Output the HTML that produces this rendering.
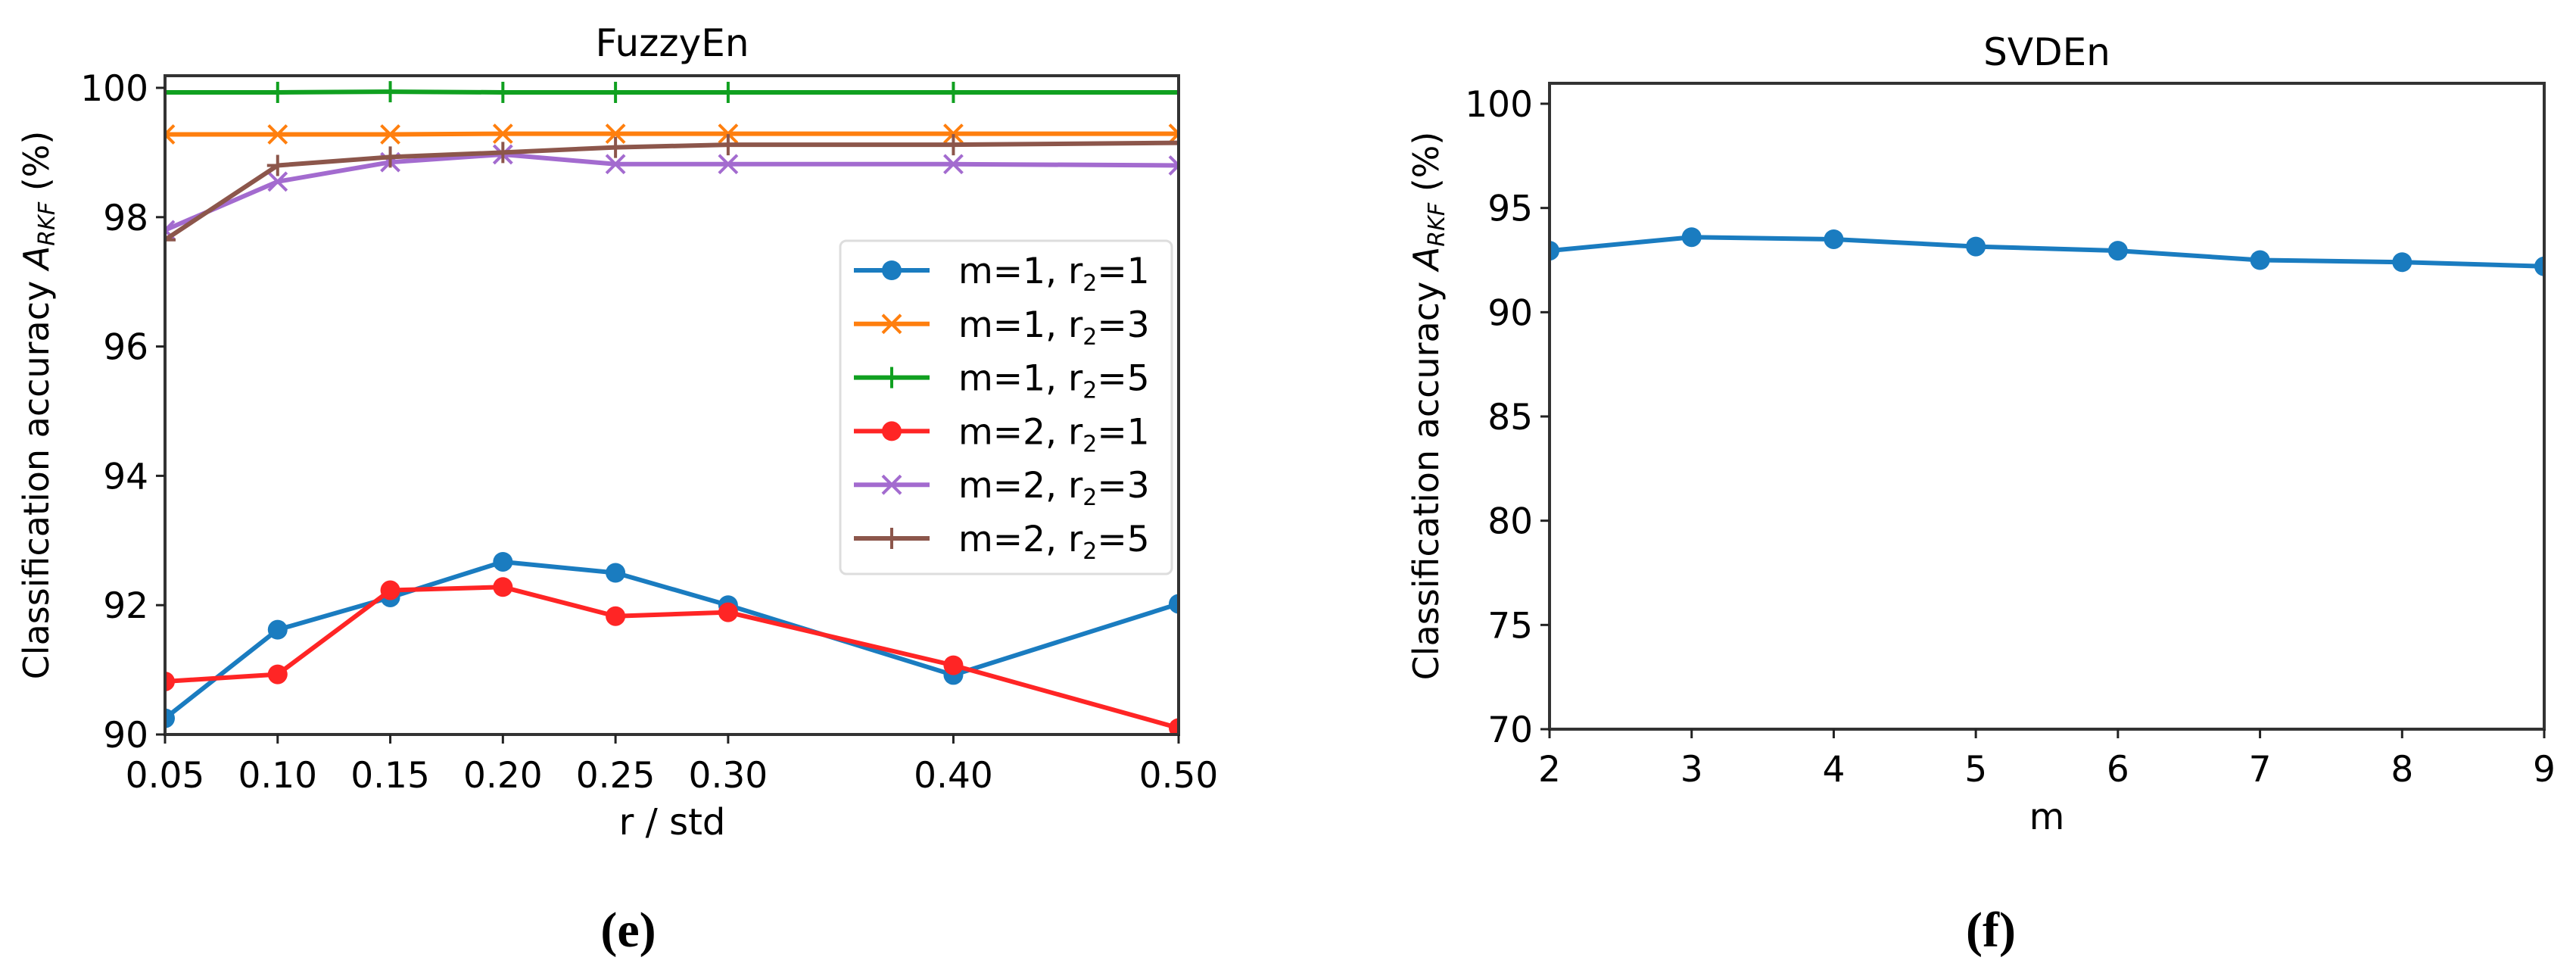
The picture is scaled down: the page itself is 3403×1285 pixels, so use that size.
<!DOCTYPE html>
<html><head><meta charset="utf-8"><style>
body{margin:0;background:#fff;}
svg text{font-family:"DejaVu Sans","Liberation Sans",sans-serif;fill:#000;}
</style></head><body>
<svg id="fig" width="3403" height="1280" xmlns="http://www.w3.org/2000/svg"></svg>
<script>
const xCatsE=[0.05,0.10,0.15,0.20,0.25,0.30,0.40,0.50];
const xTickLabelsE=["0.05","0.10","0.15","0.20","0.25","0.30","0.40","0.50"];
const yTicksE=[90,92,94,96,98,100];
const m1r1=[90.25,91.62,92.12,92.67,92.5,92.0,90.92,92.02];
const m1r3=[99.28,99.28,99.28,99.29,99.29,99.29,99.29,99.29];
const m1r5=[99.93,99.93,99.94,99.93,99.93,99.93,99.93,99.93];
const m2r1=[90.82,90.93,92.23,92.28,91.83,91.89,91.07,90.1];
const m2r3=[97.8,98.55,98.85,98.97,98.82,98.82,98.82,98.8];
const m2r5=[97.65,98.8,98.93,99.0,99.08,99.12,99.12,99.15];
const xCatsF=[2,3,4,5,6,7,8,9];
const yTicksF=[70,75,80,85,90,95,100];
const svdEn=[92.95,93.6,93.5,93.15,92.95,92.5,92.4,92.2];

const svg=document.getElementById('fig');
const NS='http://www.w3.org/2000/svg';
function mk(tag,attrs,parent){const e=document.createElementNS(NS,tag);for(const k in attrs)e.setAttribute(k,attrs[k]);(parent||svg).appendChild(e);return e;}

const xE=v=>218+(v-0.05)/(0.45)*(1557-218);
const yE=v=>970-(v-90)/10*(970-116);
const xF=v=>2047+(v-2)/7*(3361-2047);
const yF=v=>963-(v-70)/30*(963-137);

function marker(g,type,x,y,color){
  if(type==='o'){const c=mk('circle',{cx:x,cy:y,r:13,fill:color},g);}
  else if(type==='x'){const p=mk('path',{d:`M${x-12},${y-12}L${x+12},${y+12}M${x-12},${y+12}L${x+12},${y-12}`,stroke:color,'stroke-width':4,fill:'none'},g);}
  else {const p=mk('path',{d:`M${x-14},${y}L${x+14},${y}M${x},${y-14}L${x},${y+14}`,stroke:color,'stroke-width':4,fill:'none'},g);}
}
function series(name,xs,ys,xf,yf,color,mtype,clip){
  const g=mk('g',{'clip-path':clip});
  
  
  mk('polyline',{points:xs.map((x,i)=>xf(x)+','+yf(ys[i])).join(' '),fill:'none',stroke:color,'stroke-width':6,'stroke-linejoin':'round'},g);
  xs.forEach((x,i)=>marker(g,mtype,xf(x),yf(ys[i]),color));
}
function text(str,x,y,size,anchor,name,extra){
  const t=mk('text',Object.assign({x:x,y:y,'font-size':size,'text-anchor':anchor||'middle'},extra||{}));
  t.textContent=str;return t;
}
const defs=mk('defs',{});
const c1=mk('clipPath',{id:'ce'},defs);mk('rect',{x:218,y:100,width:1339,height:870},c1);
const c2=mk('clipPath',{id:'cf'},defs);mk('rect',{x:2047,y:110,width:1314,height:853},c2);

const colors={b:'#1a7cc0',o:'#ff7f0e',g:'#10a020',r:'#ff2525',p:'#a36bcf',br:'#8c564b'};
series('series-m1-r5',xCatsE,m1r5,xE,yE,colors.g,'+','url(#ce)');
series('series-m1-r3',xCatsE,m1r3,xE,yE,colors.o,'x','url(#ce)');
series('series-m2-r3',xCatsE,m2r3,xE,yE,colors.p,'x','url(#ce)');
series('series-m2-r5',xCatsE,m2r5,xE,yE,colors.br,'+','url(#ce)');
series('series-m1-r1',xCatsE,m1r1,xE,yE,colors.b,'o','url(#ce)');
series('series-m2-r1',xCatsE,m2r1,xE,yE,colors.r,'o','url(#ce)');
const frE=mk('rect',{x:218,y:100,width:1339,height:870,fill:'none',stroke:'#333','stroke-width':4});

yTicksE.forEach(v=>{mk('line',{x1:206,x2:218,y1:yE(v),y2:yE(v),stroke:'#222','stroke-width':3});text(String(v),196,yE(v)+17,47,'end','y-tick-label');});
xCatsE.forEach((v,i)=>{mk('line',{x1:xE(v),x2:xE(v),y1:970,y2:982,stroke:'#222','stroke-width':3});text(xTickLabelsE[i],xE(v),1040,47,'middle','x-tick-label');});
text('FuzzyEn',888,74,50,'middle','chart-title-e');
text('r / std',888,1102,48,'middle','x-axis-title-e');
const ylE=text('',0,0,46,'middle','y-axis-title-e',{transform:'translate(64,535) rotate(-90)'});
ylE.innerHTML='Classification accuracy <tspan font-style="italic">A</tspan><tspan font-style="italic" font-size="30" dy="8">RKF</tspan><tspan dy="-8"> (%)</tspan>';
const lg=mk('g',{});
mk('rect',{x:1110,y:318,width:438,height:440,rx:8,fill:'#fff',stroke:'#ddd','stroke-width':3},lg);
const legItems=[['1','1',colors.b,'o'],['1','3',colors.o,'x'],['1','5',colors.g,'+'],['2','1',colors.r,'o'],['2','3',colors.p,'x'],['2','5',colors.br,'+']];
legItems.forEach((it,i)=>{
  const y=357+i*70.8;
  const e=mk('g',{},lg);
  mk('line',{x1:1128,x2:1228,y1:y,y2:y,stroke:it[2],'stroke-width':6},e);
  marker(e,it[3],1178,y,it[2]);
  const t=mk('text',{x:1266,y:y+17,'font-size':47},e);
  t.innerHTML=`m=${it[0]}, r<tspan font-size="30" dy="10">2</tspan><tspan dy="-10">=${it[1]}</tspan>`;
});
text('(e)',830,1250,66,'middle','panel-label-e',{style:'font-family:"Liberation Serif",serif;font-weight:bold'});

series('series-svden',xCatsF,svdEn,xF,yF,colors.b,'o','url(#cf)');
const frF=mk('rect',{x:2047,y:110,width:1314,height:853,fill:'none',stroke:'#333','stroke-width':4});

yTicksF.forEach(v=>{mk('line',{x1:2035,x2:2047,y1:yF(v),y2:yF(v),stroke:'#222','stroke-width':3});text(String(v),2025,yF(v)+17,47,'end','y-tick-label');});
xCatsF.forEach(v=>{mk('line',{x1:xF(v),x2:xF(v),y1:963,y2:975,stroke:'#222','stroke-width':3});text(String(v),xF(v),1032,47,'middle','x-tick-label');});
text('SVDEn',2704,86,50,'middle','chart-title-f');
text('m',2704,1095,48,'middle','x-axis-title-f');
const ylF=text('',0,0,46,'middle','y-axis-title-f',{transform:'translate(1900,536) rotate(-90)'});
ylF.innerHTML='Classification accuracy <tspan font-style="italic">A</tspan><tspan font-style="italic" font-size="30" dy="8">RKF</tspan><tspan dy="-8"> (%)</tspan>';
text('(f)',2630,1250,66,'middle','panel-label-f',{style:'font-family:"Liberation Serif",serif;font-weight:bold'});
</script>
</body></html>
